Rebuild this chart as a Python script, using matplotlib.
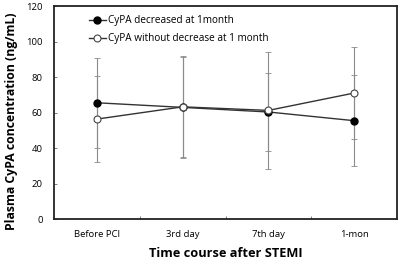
import matplotlib
matplotlib.use("Agg")
import matplotlib.pyplot as plt

categories = ["Before PCI", "3rd day", "7th day", "1-mon"]
dec_mean = [65.5, 62.9, 60.3, 55.4]
dec_err = [25.5, 28.5, 22.0, 25.5]
nodec_mean = [56.3, 63.2, 61.2, 71.0]
nodec_err = [24.0, 28.5, 33.0, 26.0]
yticks = [0, 20, 40, 60, 80, 100, 120]

plt.rcParams['font.family'] = ['Open Sans', 'DejaVu Sans']

fig = plt.figure(figsize=(4.02, 2.62), dpi=100)
ax = fig.add_axes([0.134, 0.164, 0.854, 0.813])

x = list(range(1, len(categories) + 1))
ax.errorbar(x, dec_mean, yerr=dec_err, fmt='none', ecolor='#8a8a8a', elinewidth=0.8, capsize=2, capthick=0.6, zorder=1)
ax.errorbar(x, nodec_mean, yerr=nodec_err, fmt='none', ecolor='#8a8a8a', elinewidth=0.8, capsize=2, capthick=0.6, zorder=1)
ax.plot(x, dec_mean, color='#333333', lw=1.0, marker='o', ms=5, mfc='black', mec='black', zorder=3,
        label='CyPA decreased at 1month')
ax.plot(x, nodec_mean, color='#333333', lw=1.0, marker='o', ms=5, mfc='white', mec='#444444', mew=0.8, zorder=3,
        label='CyPA without decrease at 1 month')

ax.set_xlim(0.5, 4.5)
ax.set_ylim(0, 120)
ax.set_yticks(yticks)
ax.set_xticks(x)
ax.set_xticklabels(categories)
ax.set_xticks([1.5, 2.5, 3.5], minor=True)
ax.tick_params(axis='x', which='major', length=0, labelsize=6.8, pad=8)
ax.tick_params(axis='x', which='minor', direction='in', length=2.5, width=0.6, color='#666666')
ax.tick_params(axis='y', direction='in', length=2.5, width=0.6, color='#666666', labelsize=6.8, pad=8)
for s in ax.spines.values():
    s.set_linewidth(1.3)
    s.set_color('#222222')

ax.set_xlabel('Time course after STEMI', fontsize=9.2, fontweight='bold', labelpad=6)
ax.set_ylabel('Plasma CyPA concentration (ng/mL)', fontsize=8.8, fontweight='bold', labelpad=5)
ax.yaxis.set_label_coords(-0.105, 0.46)

ax.legend(loc='upper left', bbox_to_anchor=(0.075, 1.0), frameon=False, fontsize=7.2,
          handlelength=1.7, handletextpad=0.2, labelspacing=0.7)

fig.savefig('out.png', dpi=100)
